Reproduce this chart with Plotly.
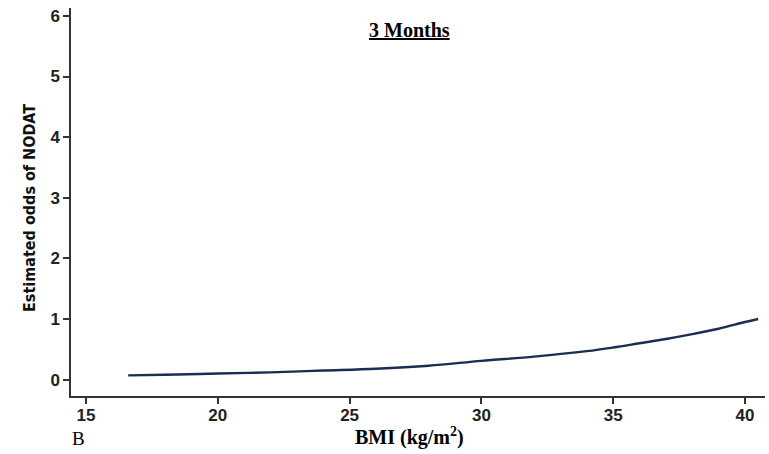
import plotly.graph_objects as go

bmi = [16.6, 18, 20, 22, 24, 26, 28, 30, 32, 34, 35, 36, 37, 38, 39, 40, 40.5]
odds = [0.07, 0.08, 0.10, 0.12, 0.15, 0.18, 0.23, 0.31, 0.38, 0.47, 0.53, 0.60, 0.67, 0.75, 0.84, 0.95, 1.00]
x_ticks = [15, 20, 25, 30, 35, 40]
y_ticks = [0, 1, 2, 3, 4, 5, 6]

W, H = 769, 454
L, R, T, B = 71, 4, 8, 58
pw, ph = W - L - R, H - T - B
def px(xp):
    return (xp - L) / pw
def py(yp):
    return (H - B - yp) / ph

fig = go.Figure()
fig.add_trace(go.Scatter(x=bmi, y=odds, mode="lines",
                         line=dict(color="#1b2d52", width=2.4, shape="spline")))

tickfont = dict(family="Liberation Sans, Arial", size=17, color="#222", weight="bold")
axis_common = dict(showgrid=False, zeroline=False, showline=True, linecolor="#333",
                   linewidth=1.5, ticks="outside", ticklen=6, tickwidth=1.5,
                   tickcolor="#333", tickfont=tickfont)
serif = "Liberation Serif, Times New Roman"
fig.update_layout(
    width=W, height=H,
    margin=dict(l=L, r=R, t=T, b=B),
    paper_bgcolor="white", plot_bgcolor="white",
    showlegend=False,
    xaxis=dict(range=[14.43, 40.76], tickvals=x_ticks, ticklabelstandoff=-3, **axis_common),
    yaxis=dict(range=[-0.27, 6.13], tickvals=y_ticks, **axis_common),
    annotations=[
        dict(text="<b><u>3 Months</u></b>", x=px(409), y=py(30), xref="paper", yref="paper",
             xanchor="center", yanchor="middle",
             showarrow=False, font=dict(family=serif, size=20, color="#000")),
        dict(text="Estimated odds of NODAT", textangle=-90, showarrow=False,
             xref="paper", yref="paper", x=px(30), y=py(208),
             xanchor="center", yanchor="middle",
             font=dict(family="DejaVu Sans Condensed, Liberation Sans, Arial",
                       size=16, color="#111", weight="bold")),
        dict(text="<b>BMI (kg/m<sup>2</sup>)</b>", showarrow=False, xref="paper", yref="paper",
             x=px(409), y=py(436), xanchor="center", yanchor="middle",
             font=dict(family=serif, size=20, color="#000")),
        dict(text="B", showarrow=False, xref="paper", yref="paper", x=px(78), y=py(438),
             xanchor="center", yanchor="middle",
             font=dict(family=serif, size=19, color="#000")),
    ],
)

fig.write_html("out.html", config={"displayModeBar": False},
               post_script="document.body.style.margin='0';")
